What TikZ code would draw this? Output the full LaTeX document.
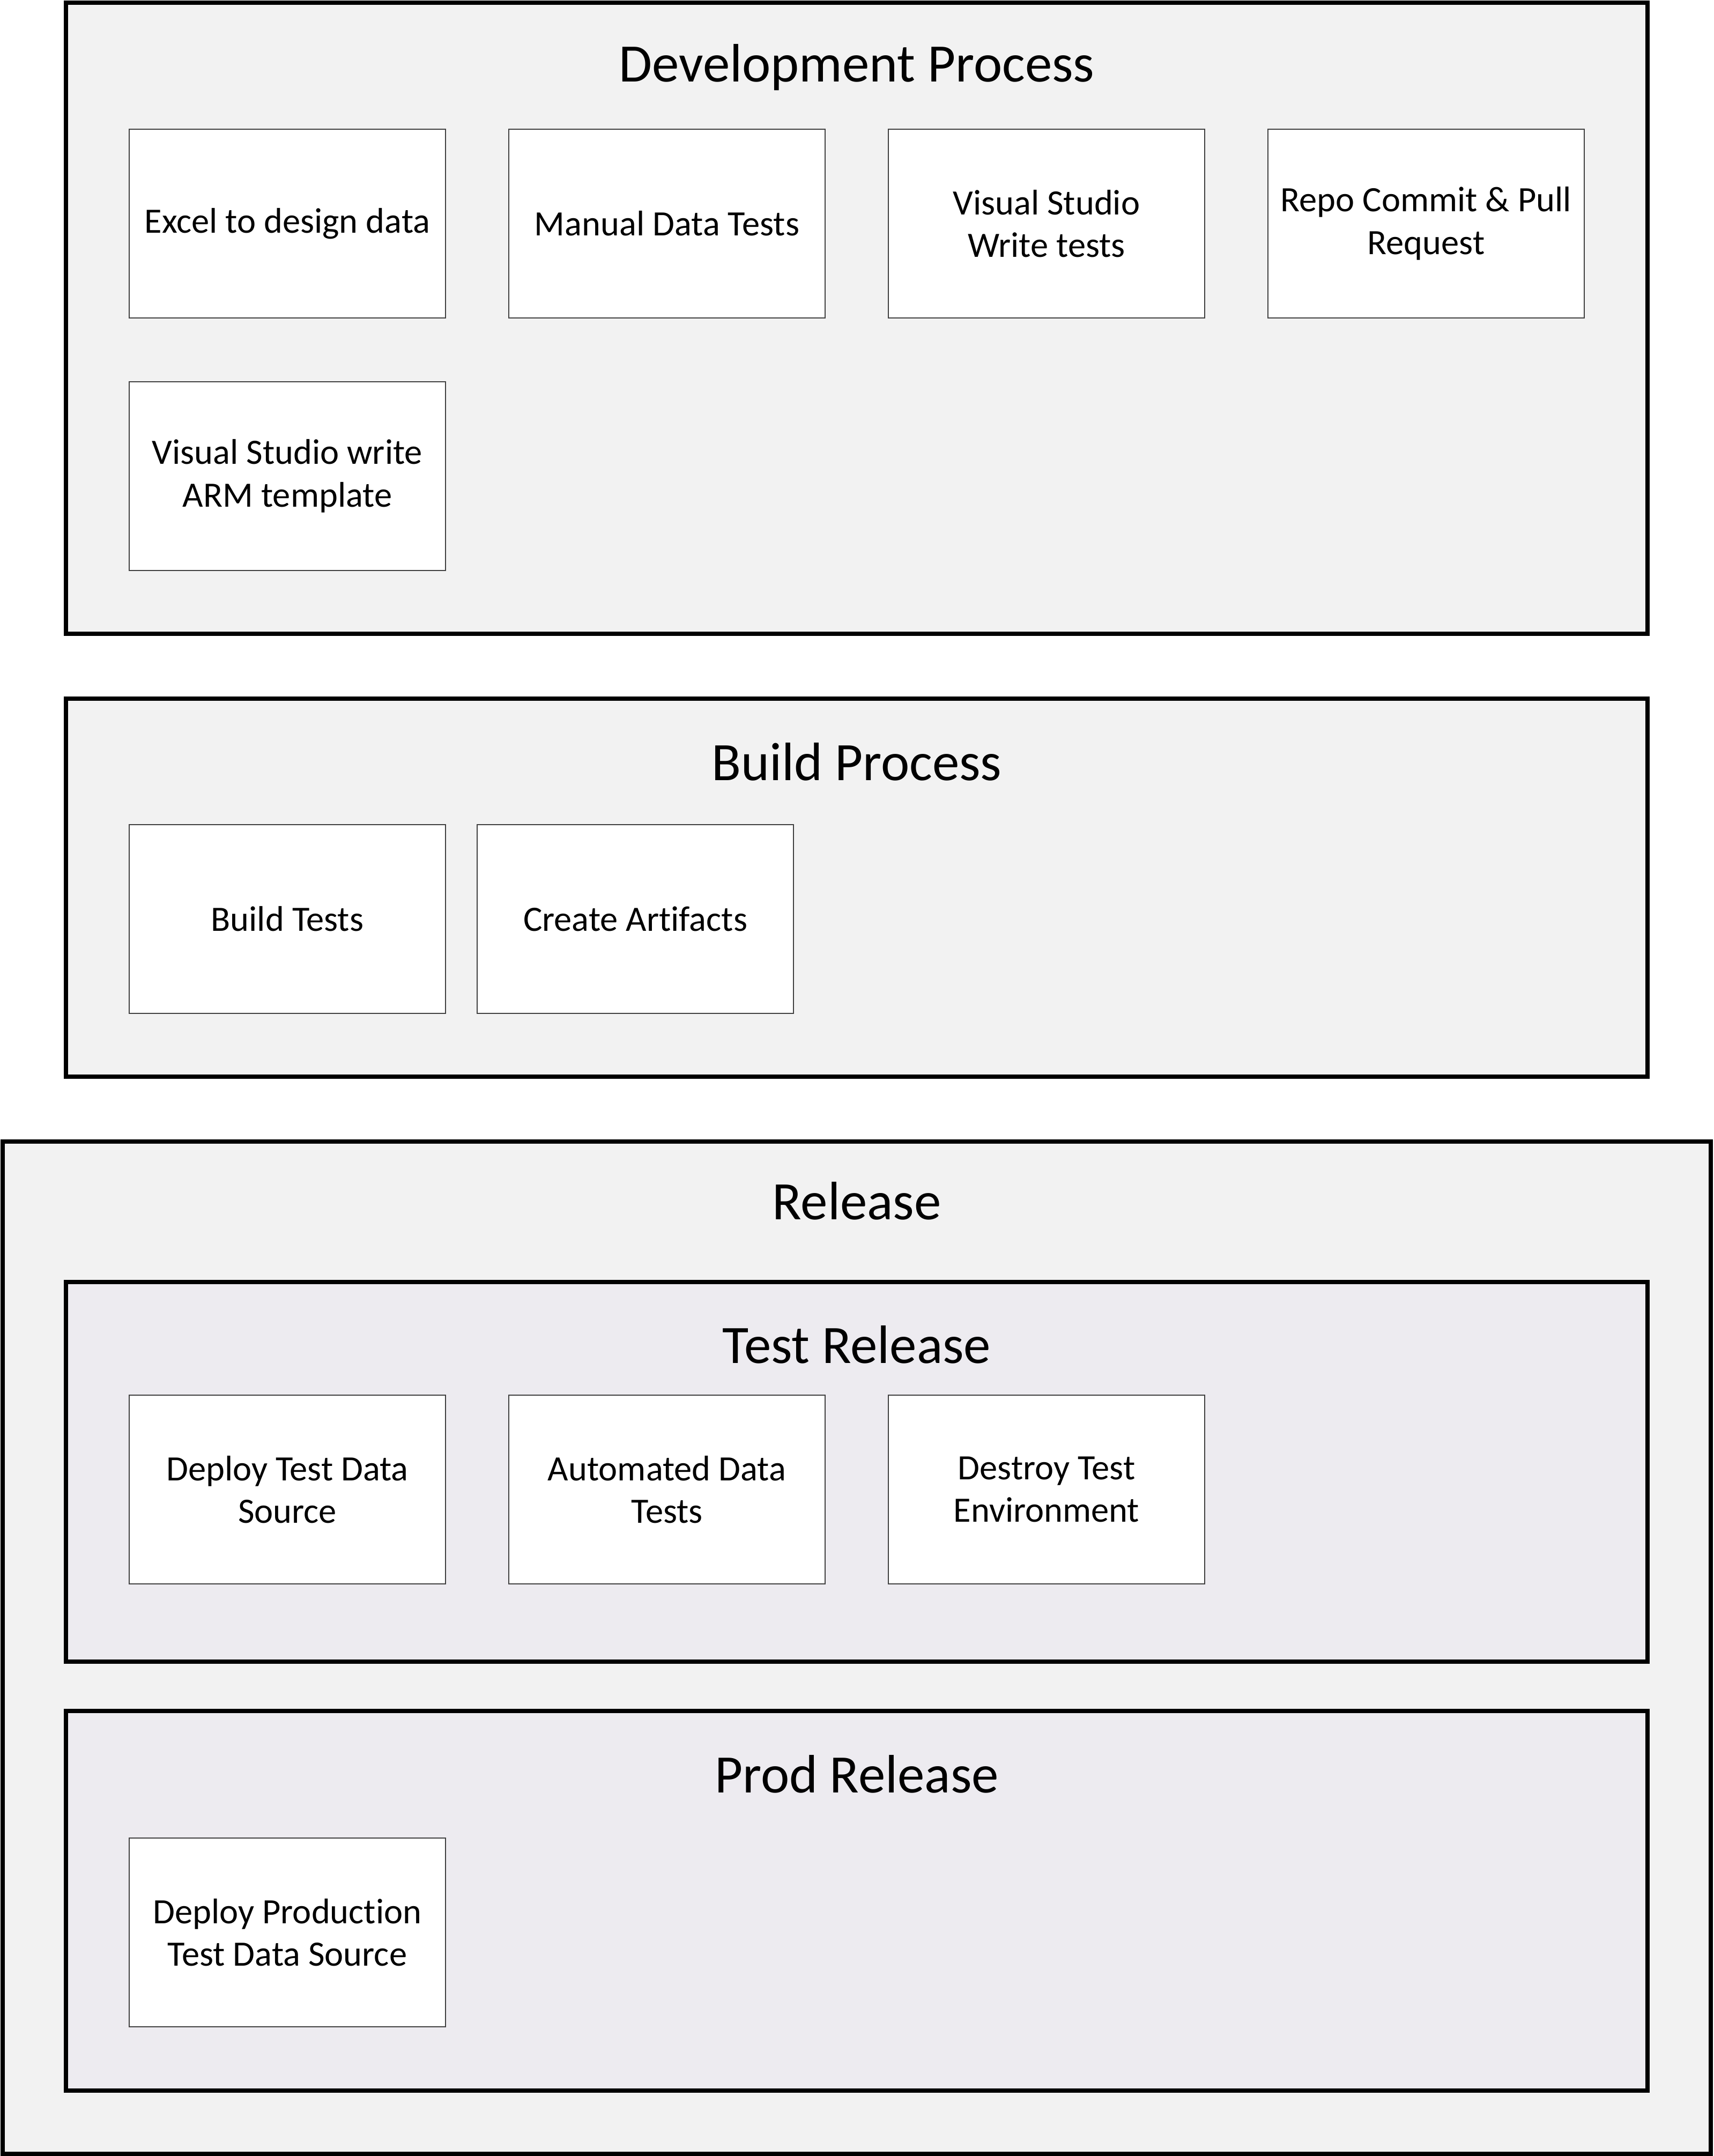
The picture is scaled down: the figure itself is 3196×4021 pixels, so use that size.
\documentclass[tikz,border=0pt]{standalone}
\usepackage{fontspec}
\setmainfont{Carlito}[Ligatures=NoCommon]
\usepackage{tikz}
\definecolor{panelgray}{HTML}{F2F2F2}
\definecolor{panellilac}{HTML}{EDEBF0}
\definecolor{boxline}{HTML}{404040}

\begin{document}
\begin{tikzpicture}[x=0.01cm, y=-0.01cm,
		panel/.style={draw=black, line width=2.3pt, fill=panelgray},
		subpanel/.style={draw=black, line width=2.3pt, fill=panellilac},
		paneltitle/.style={font=\fontsize{28.7}{35}\selectfont},
		stepbox/.style={draw=boxline, line width=0.6pt, fill=white, minimum width=5.9cm, minimum height=3.52cm, align=center, inner sep=0pt, font=\fontsize{18.9}{22.6}\selectfont}]
			%%%%% START %%%%%
			
			\useasboundingbox (0, 0) rectangle (3196, 4021);
			
			% development
			\draw[panel] (123, 5) rectangle (3073, 1182);
			\node[paneltitle] (devtitle) at (1598, 126) {Development Process};
			\node[stepbox] (excel) at (536, 417) {Excel to design data};
			\node[stepbox] (manual) at (1244, 417) {Manual Data Tests};
			\node[stepbox] (vswrite) at (1952, 417) {Visual Studio\\Write tests};
			\node[stepbox] (commit) at (2660, 417) {Repo Commit \& Pull\\Request};
			\node[stepbox] (armtpl) at (536, 888) {Visual Studio write\\ARM template};
			
			% build
			\draw[panel] (123, 1303) rectangle (3073, 2008);
			\node[paneltitle] (buildtitle) at (1598, 1421) {Build Process};
			\node[stepbox] (buildtests) at (536, 1714) {Build Tests};
			\node[stepbox] (artifacts) at (1185, 1714) {Create Artifacts};
			
			% release
			\draw[panel] (5, 2129) rectangle (3191, 4017);
			\node[paneltitle] (reltitle) at (1598, 2240) {Release};
			
			\draw[subpanel] (123, 2391) rectangle (3073, 3099);
			\node[paneltitle] (testtitle) at (1598, 2508) {Test Release};
			\node[stepbox] (deploytest) at (536, 2778) {Deploy Test Data\\Source};
			\node[stepbox] (autotests) at (1244, 2778) {Automated Data\\Tests};
			\node[stepbox] (destroy) at (1952, 2778) {Destroy Test\\Environment};
			
			\draw[subpanel] (123, 3191) rectangle (3073, 3899);
			\node[paneltitle] (prodtitle) at (1598, 3309) {Prod Release};
			\node[stepbox] (deployprod) at (536, 3604) {Deploy Production\\Test Data Source};
			
			%%%%% END %%%%%
		\end{tikzpicture}
\end{document}
